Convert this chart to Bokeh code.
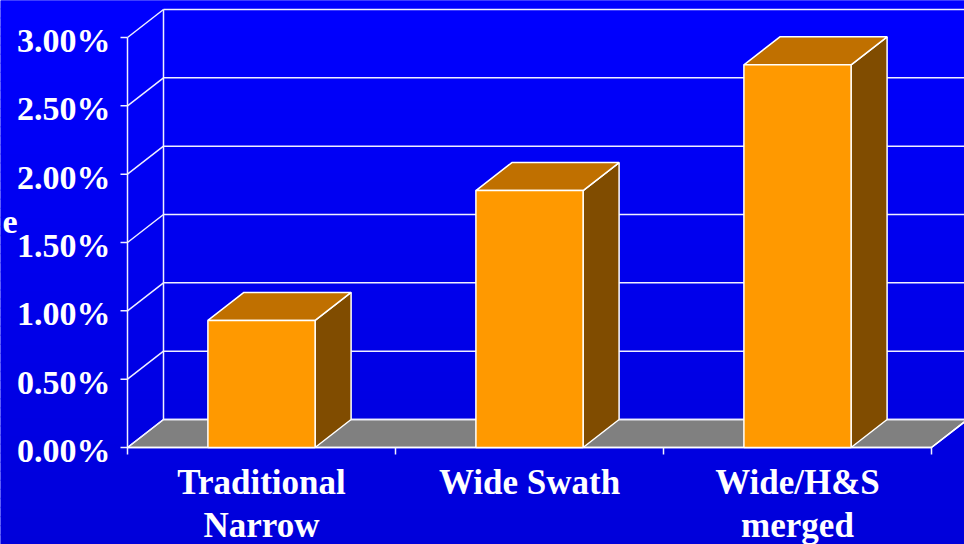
from bokeh.plotting import figure
from bokeh.models import Range1d, ColumnDataSource
from bokeh.core.properties import value
from bokeh.embed import file_html
from bokeh.resources import INLINE

# ---- data -------------------------------------------------------------
categories = ["Traditional\nNarrow", "Wide Swath", "Wide/H&S\nmerged"]
rates = [0.93, 1.88, 2.80]            # percent
y_ticks = [0.0, 0.5, 1.0, 1.5, 2.0, 2.5, 3.0]
y_tick_labels = ["0.00%", "0.50%", "1.00%", "1.50%", "2.00%", "2.50%", "3.00%"]

# ---- layout (screen px → data units) -----------------------------------
W, H = 964, 544
PX_X = 268.0          # px per category
PX_Y = 136.67         # px per 1 %
X0_PX, Y0_PX = 127, 447   # front-left corner of the floor
DX = 36 / PX_X        # depth offset of the back wall
DY = 28 / PX_Y
BAR_W = 0.4
FONT = value("Liberation Serif")

p = figure(width=W, height=H, output_backend="svg", toolbar_location=None,
           x_range=Range1d(-X0_PX / PX_X, (W - X0_PX) / PX_X),
           y_range=Range1d(-(H - Y0_PX) / PX_Y, Y0_PX / PX_Y),
           min_border=0)
p.axis.visible = False
p.grid.visible = False
p.outline_line_color = None
p.background_fill_color = "#0000FF"
p.border_fill_color = "#0000FF"

# vertical background gradient
y_lo, y_hi = p.y_range.start, p.y_range.end
n = 60
bands = dict(bottom=[], top=[], color=[])
for i in range(n):
    t = i / (n - 1)
    b = int(round(218 + (255 - 218) * t))
    bands["bottom"].append(y_lo + (y_hi - y_lo) * i / n)
    bands["top"].append(y_lo + (y_hi - y_lo) * (i + 1) / n + 0.01)
    bands["color"].append("#0000%02X" % b)
p.quad(left=p.x_range.start, right=p.x_range.end, bottom="bottom", top="top",
       color="color", line_color=None, source=ColumnDataSource(bands))

ncat = len(categories)
x_end = p.x_range.end + 0.5

# floor
p.patch([0, ncat, ncat + DX, DX], [0, 0, DY, DY],
        fill_color="#808080", line_color="white", line_width=1.5)

# back wall gridlines and side-wall diagonals
grid_col = "#F0F0FF"
p.segment(x0=[DX] * len(y_ticks), y0=[v + DY for v in y_ticks],
          x1=[x_end] * len(y_ticks), y1=[v + DY for v in y_ticks],
          line_color=grid_col, line_width=1.5)
p.segment(x0=[0] * len(y_ticks), y0=y_ticks,
          x1=[DX] * len(y_ticks), y1=[v + DY for v in y_ticks],
          line_color=grid_col, line_width=1.5)
# side wall verticals
p.segment(x0=[0, DX], y0=[0, DY], x1=[0, DX], y1=[y_ticks[-1], y_ticks[-1] + DY],
          line_color=grid_col, line_width=1.5)
# front floor edge
p.segment(x0=[0], y0=[0], x1=[ncat], y1=[0], line_color="white", line_width=1.5)
p.segment(x0=[ncat], y0=[0], x1=[ncat + DX], y1=[DY], line_color="white", line_width=1.5)

# tick marks
tk_x = 7 / PX_X
tk_y = 7 / PX_Y
p.segment(x0=[-tk_x] * len(y_ticks), y0=y_ticks, x1=[0] * len(y_ticks), y1=y_ticks,
          line_color=grid_col, line_width=1.5)
xt = list(range(ncat + 1))
p.segment(x0=xt, y0=[0] * len(xt), x1=xt, y1=[-tk_y] * len(xt),
          line_color=grid_col, line_width=1.5)

# 3-D bars
for i, v in enumerate(rates):
    l = i + 0.5 - BAR_W / 2
    r = i + 0.5 + BAR_W / 2
    # right side face
    p.patch([r, r + DX, r + DX, r], [0, DY, v + DY, v],
            fill_color="#804C00", line_color="white", line_width=1.5)
    # top face
    p.patch([l, r, r + DX, l + DX], [v, v, v + DY, v + DY],
            fill_color="#C07000", line_color="white", line_width=1.5)
    # front face
    p.quad(left=l, right=r, bottom=0, top=v,
           fill_color="#FF9900", line_color="white", line_width=1.5)

# y tick labels
p.text(x=[-17 / PX_X] * len(y_ticks), y=y_ticks, text=y_tick_labels,
       text_align="right", text_baseline="middle", y_offset=3,
       text_font=FONT, text_font_style="bold", text_font_size="34px",
       text_color="white")

# category labels
p.text(x=[i + 0.5 for i in range(ncat)], y=[-15 / PX_Y] * ncat, text=categories,
       text_align="center", text_baseline="top", text_line_height=1.12,
       text_font=FONT, text_font_style="bold", text_font_size="35px",
       text_color="white")

# axis title fragment at the left edge
p.text(x=[(17 - X0_PX) / PX_X], y=[(Y0_PX - 221) / PX_Y], text=["e"],
       text_align="right", text_baseline="alphabetic",
       text_font=FONT, text_font_style="bold", text_font_size="34px",
       text_color="white")

open("out.html", "w").write(file_html(p, INLINE))
